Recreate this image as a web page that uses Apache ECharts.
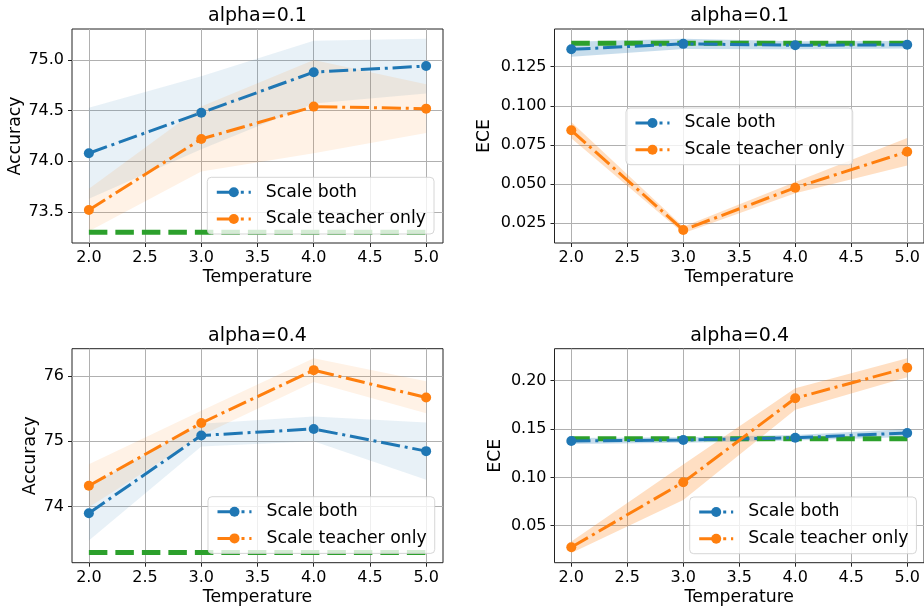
<!DOCTYPE html>
<html>
<head>
<meta charset="utf-8">
<script src="https://cdn.jsdelivr.net/npm/echarts@6/dist/echarts.min.js"></script>
<style>
html,body{margin:0;padding:0;background:#fff;}
#chart{width:924px;height:607px;}
</style>
</head>
<body>
<div id="chart"></div>
<script>
// ---------------- data ----------------
const temperatures = [2.0, 3.0, 4.0, 5.0];
const xTicks = [2.0, 2.5, 3.0, 3.5, 4.0, 4.5, 5.0];
const legendNames = ['Scale both', 'Scale teacher only'];
const panelTitles = ['alpha=0.1', 'alpha=0.1', 'alpha=0.4', 'alpha=0.4'];
const yNames = ['Accuracy', 'ECE', 'Accuracy', 'ECE'];
const xName = 'Temperature';

// alpha=0.1, Accuracy
const acc01Both = [74.08, 74.48, 74.88, 74.94];
const acc01BothLo = [73.63, 74.12, 74.57, 74.67];
const acc01BothHi = [74.53, 74.84, 75.19, 75.21];
const acc01Teacher = [73.52, 74.22, 74.54, 74.52];
const acc01TeacherLo = [73.31, 73.90, 74.08, 74.28];
const acc01TeacherHi = [73.73, 74.54, 75.00, 74.76];
const acc01Baseline = 73.3;
const acc01YTicks = [73.5, 74.0, 74.5, 75.0];

// alpha=0.1, ECE
const ece01Both = [0.1361, 0.1396, 0.1387, 0.1390];
const ece01BothLo = [0.1314, 0.1363, 0.1362, 0.1366];
const ece01BothHi = [0.1410, 0.1429, 0.1412, 0.1414];
const ece01Teacher = [0.0843, 0.0205, 0.0476, 0.0706];
const ece01TeacherLo = [0.0792, 0.0184, 0.0440, 0.0618];
const ece01TeacherHi = [0.0896, 0.0226, 0.0512, 0.0794];
const ece01Baseline = 0.140;
const ece01YTicks = [0.025, 0.050, 0.075, 0.100, 0.125];

// alpha=0.4, Accuracy
const acc04Both = [73.90, 75.09, 75.19, 74.85];
const acc04BothLo = [73.48, 74.92, 75.00, 74.41];
const acc04BothHi = [74.32, 75.27, 75.38, 75.29];
const acc04Teacher = [74.32, 75.28, 76.09, 75.67];
const acc04TeacherLo = [73.99, 75.09, 75.91, 75.43];
const acc04TeacherHi = [74.65, 75.47, 76.27, 75.92];
const acc04Baseline = 73.3;
const acc04YTicks = [74, 75, 76];

// alpha=0.4, ECE
const ece04Both = [0.1376, 0.1386, 0.1410, 0.1459];
const ece04BothLo = [0.1346, 0.1358, 0.1382, 0.1418];
const ece04BothHi = [0.1406, 0.1414, 0.1438, 0.1500];
const ece04Teacher = [0.0277, 0.0949, 0.1818, 0.2134];
const ece04TeacherLo = [0.0218, 0.0766, 0.1700, 0.2036];
const ece04TeacherHi = [0.0336, 0.1132, 0.1921, 0.2232];
const ece04Baseline = 0.140;
const ece04YTicks = [0.05, 0.10, 0.15, 0.20];

// ---------------- layout / style ----------------
const FONT = 'DejaVu Sans';
const BLUE = '#1f77b4', ORANGE = '#ff7f0e', GREEN = '#2ca02c';
const DASHDOT = [19.2, 4.8, 3, 4.8];

const panels = [
  { grid: {left: 72, top: 29, width: 371, height: 214}, yMin: 73.194, yMax: 75.306, yTicks: acc01YTicks, dec: 1,
    both: acc01Both, bothLo: acc01BothLo, bothHi: acc01BothHi,
    teacher: acc01Teacher, teacherLo: acc01TeacherLo, teacherHi: acc01TeacherHi, base: acc01Baseline,
    bandAlpha: 0.1, yNameGap: 48, legend: {left: 207.3, top: 177.3}, titleTop: 5.7 },
  { grid: {left: 554.5, top: 29, width: 370.3, height: 214}, yMin: 0.0122, yMax: 0.1491, yTicks: ece01YTicks, dec: 3,
    both: ece01Both, bothLo: ece01BothLo, bothHi: ece01BothHi,
    teacher: ece01Teacher, teacherLo: ece01TeacherLo, teacherHi: ece01TeacherHi, base: ece01Baseline,
    bandAlpha: 0.25, yNameGap: 61, legend: {left: 626, top: 108}, titleTop: 5.7 },
  { grid: {left: 72, top: 348.7, width: 371, height: 214}, yMin: 73.142, yMax: 76.418, yTicks: acc04YTicks, dec: 0,
    both: acc04Both, bothLo: acc04BothLo, bothHi: acc04BothHi,
    teacher: acc04Teacher, teacherLo: acc04TeacherLo, teacherHi: acc04TeacherHi, base: acc04Baseline,
    bandAlpha: 0.1, yNameGap: 33, legend: {left: 208, top: 496.7}, titleTop: 325.7 },
  { grid: {left: 554.5, top: 348.7, width: 370.3, height: 214}, yMin: 0.0117, yMax: 0.2331, yTicks: ece04YTicks, dec: 2,
    both: ece04Both, bothLo: ece04BothLo, bothHi: ece04BothHi,
    teacher: ece04Teacher, teacherLo: ece04TeacherLo, teacherHi: ece04TeacherHi, base: ece04Baseline,
    bandAlpha: 0.25, yNameGap: 50.5, legend: {left: 689.7, top: 497}, titleTop: 325.7 }
];

function rgba(hex, a) {
  const r = parseInt(hex.slice(1,3),16), g = parseInt(hex.slice(3,5),16), b = parseInt(hex.slice(5,7),16);
  return 'rgba(' + r + ',' + g + ',' + b + ',' + a + ')';
}

function bandSeries(idx, lo, hi, color, alpha) {
  return {
    type: 'custom', coordinateSystem: 'cartesian2d',
    xAxisIndex: idx, yAxisIndex: idx, silent: true, z: 1,
    data: temperatures.map((t, i) => [t, lo[i], hi[i]]),
    encode: {x: 0, y: [1, 2]},
    renderItem: function (params, api) {
      if (params.dataIndex !== 0) return null;
      const pts = [];
      for (let i = 0; i < temperatures.length; i++) pts.push(api.coord([temperatures[i], hi[i]]));
      for (let i = temperatures.length - 1; i >= 0; i--) pts.push(api.coord([temperatures[i], lo[i]]));
      return {type: 'polygon', shape: {points: pts}, style: {fill: rgba(color, alpha), stroke: 'none'}};
    }
  };
}

function lineSeries(idx, name, vals, color) {
  return {
    type: 'line', name: name, xAxisIndex: idx, yAxisIndex: idx, z: 4,
    data: temperatures.map((t, i) => [t, vals[i]]),
    symbol: 'circle', symbolSize: 10, showSymbol: true,
    lineStyle: {color: color, width: 3, type: DASHDOT},
    itemStyle: {color: color},
    emphasis: {disabled: true}
  };
}

function baselineSeries(idx, base) {
  return {
    type: 'line', name: 'baseline', xAxisIndex: idx, yAxisIndex: idx, z: 3,
    data: temperatures.map(t => [t, base]),
    symbol: 'none',
    lineStyle: {color: GREEN, width: 5, type: [18.5, 8]},
    itemStyle: {color: GREEN},
    emphasis: {disabled: true}
  };
}

const option = {
  animation: false,
  backgroundColor: '#fff',
  grid: [], xAxis: [], yAxis: [], series: [], legend: [], title: []
};

panels.forEach((p, idx) => {
  option.grid.push(Object.assign({show: true, borderColor: '#222', borderWidth: 1, backgroundColor: 'transparent'}, p.grid));
  option.xAxis.push({
    type: 'value', gridIndex: idx, min: 1.85, max: 5.15, minInterval: 0.5, maxInterval: 0.5,
    name: xName, nameLocation: 'middle', nameGap: 26,
    nameTextStyle: {fontFamily: FONT, fontSize: 17.3, color: '#000'},
    axisLine: {show: false},
    axisTick: {show: true, length: 4, lineStyle: {color: '#222', width: 1}, customValues: xTicks},
    axisLabel: {fontFamily: FONT, fontSize: 16, color: '#000', margin: 7,
                customValues: xTicks, formatter: v => Number(v).toFixed(1)},
    splitLine: {show: true, lineStyle: {color: '#b0b0b0', width: 1}}
  });
  option.yAxis.push({
    type: 'value', gridIndex: idx, min: p.yMin, max: p.yMax,
    minInterval: p.yTicks[1] - p.yTicks[0], maxInterval: p.yTicks[1] - p.yTicks[0],
    name: yNames[idx], nameLocation: 'middle', nameGap: p.yNameGap, nameRotate: 90,
    nameTextStyle: {fontFamily: FONT, fontSize: 17.3, color: '#000'},
    axisLine: {show: false},
    axisTick: {show: true, length: 4, lineStyle: {color: '#222', width: 1}, customValues: p.yTicks},
    axisLabel: {fontFamily: FONT, fontSize: 16, color: '#000', margin: 8,
                customValues: p.yTicks, formatter: v => Number(v).toFixed(p.dec)},
    splitLine: {show: true, lineStyle: {color: '#b0b0b0', width: 1}}
  });
  option.series.push(bandSeries(idx, p.bothLo, p.bothHi, BLUE, p.bandAlpha));
  option.series.push(bandSeries(idx, p.teacherLo, p.teacherHi, ORANGE, p.bandAlpha));
  option.series.push(baselineSeries(idx, p.base));
  option.series.push(lineSeries(idx, legendNames[0], p.both, BLUE));
  option.series.push(lineSeries(idx, legendNames[1], p.teacher, ORANGE));
  option.legend.push({
    data: legendNames, orient: 'vertical', left: p.legend.left, top: p.legend.top,
    itemWidth: 34, itemHeight: 12.5, itemGap: 6.7, padding: [5, 8, 5, 8],
    backgroundColor: 'rgba(255,255,255,0.8)', borderColor: 'rgba(204,204,204,0.8)', borderWidth: 1, borderRadius: 4,
    selectedMode: false, z: 10,
    lineStyle: {width: 3, type: DASHDOT},
    textStyle: {fontFamily: FONT, fontSize: 17.3, color: '#000', lineHeight: 20, padding: [0, 0, 0, 10]}
  });
  option.title.push({
    text: panelTitles[idx], left: p.grid.left + p.grid.width / 2, top: p.titleTop, textAlign: 'center', padding: 0,
    textStyle: {fontFamily: FONT, fontSize: 19, fontWeight: 'normal', color: '#000', lineHeight: 20}
  });
});

const chart = echarts.init(document.getElementById('chart'), null, {renderer: 'canvas'});
chart.setOption(option);
</script>
</body>
</html>
